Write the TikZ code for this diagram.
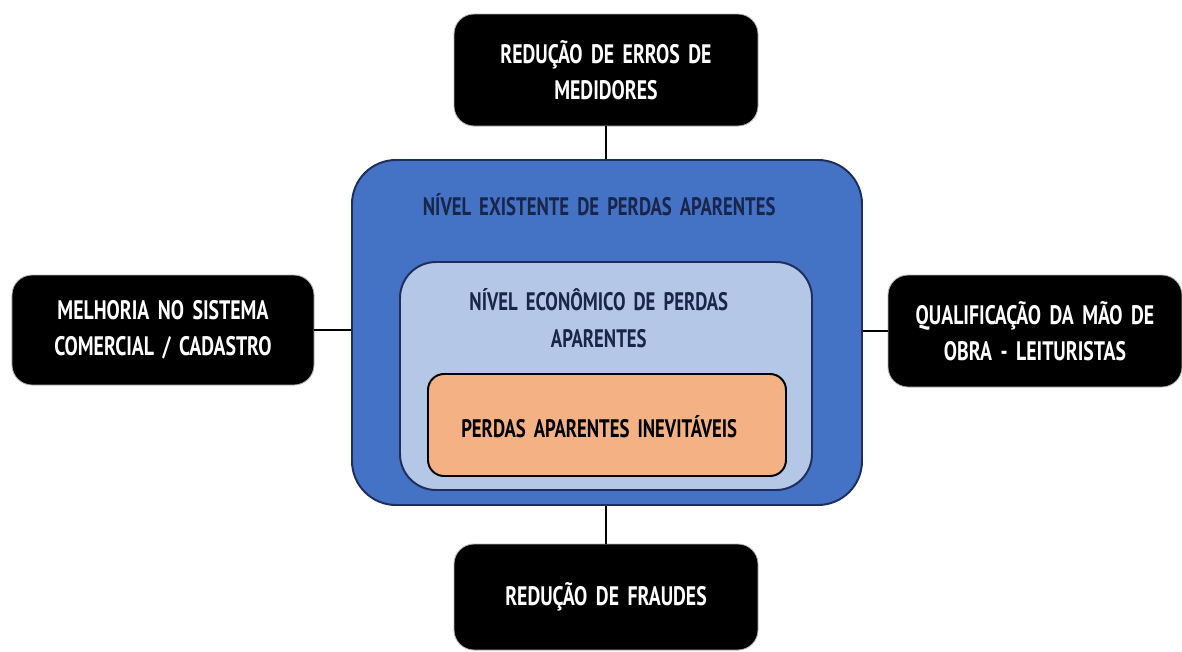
\documentclass[tikz,border=0pt]{standalone}
\usepackage{fontspec}
\setmainfont{PT Sans}[FakeStretch=0.74, WordSpace=1.7]
\usetikzlibrary{positioning}

\definecolor{navy}{HTML}{1F2E5C}
\definecolor{royal}{HTML}{4472C4}
\definecolor{pale}{HTML}{B4C7E7}
\definecolor{peach}{HTML}{F4B183}

\tikzset{
  goal/.style={rectangle, rounded corners=0.5cm, fill=black, draw=gray!60, line width=0.6pt,
    text=white, align=center, font=\fontsize{19}{26}\selectfont\bfseries},
  level/.style={rectangle, draw=navy, line width=1.4pt},
  caption/.style={align=center, text=navy!80!black, font=\fontsize{18}{26}\selectfont\bfseries},
  link/.style={draw=black, line width=1.1pt}
}

\begin{document}
\begin{tikzpicture}
\useasboundingbox (0,0) rectangle (29.55,-16.275);

% nested levels
\node (existing) [level, fill=royal, rounded corners=1.1cm, minimum width=12.75cm, minimum height=8.625cm] at (15.175,-8.3125) {};
\node (economic) [level, fill=pale, rounded corners=0.9cm, minimum width=10.3cm, minimum height=5.7cm] at (15.15,-9.4) {};
\node (unavoidable) [level, draw=black, fill=peach, rounded corners=0.4cm, minimum width=8.95cm, minimum height=2.55cm] at (15.175,-10.625) {};
\node (existingtxt) [caption] at (14.98,-5.125) {NÍVEL EXISTENTE DE PERDAS APARENTES};
\node (economictxt) [caption] at (14.97,-7.95) {NÍVEL ECONÔMICO DE PERDAS\\APARENTES};
\node (unavoidabletxt) [caption, text=black] at (14.98,-10.67) {PERDAS APARENTES INEVITÁVEIS};

% actions
\node (meters) [goal, minimum width=7.6cm, minimum height=2.8cm] at (15.15,-1.75) {REDUÇÃO DE ERROS DE\\MEDIDORES};
\node (frauds) [goal, minimum width=7.6cm, minimum height=2.65cm] at (15.15,-14.925) {REDUÇÃO DE FRAUDES};
\node (billing) [goal, minimum width=7.55cm, minimum height=2.75cm] at (4.075,-8.25) {MELHORIA NO SISTEMA\\COMERCIAL / CADASTRO};
\node (readers) [goal, minimum width=7.35cm, minimum height=2.8cm] at (25.875,-8.275) {QUALIFICAÇÃO DA MÃO DE\\OBRA - LEITURISTAS};

\draw[link] (meters) -- (meters |- existing.north);
\draw[link] (frauds) -- (frauds |- existing.south);
\draw[link] (billing) -- (existing.west |- billing);
\draw[link] (readers) -- (existing.east |- readers);
\end{tikzpicture}
\end{document}
